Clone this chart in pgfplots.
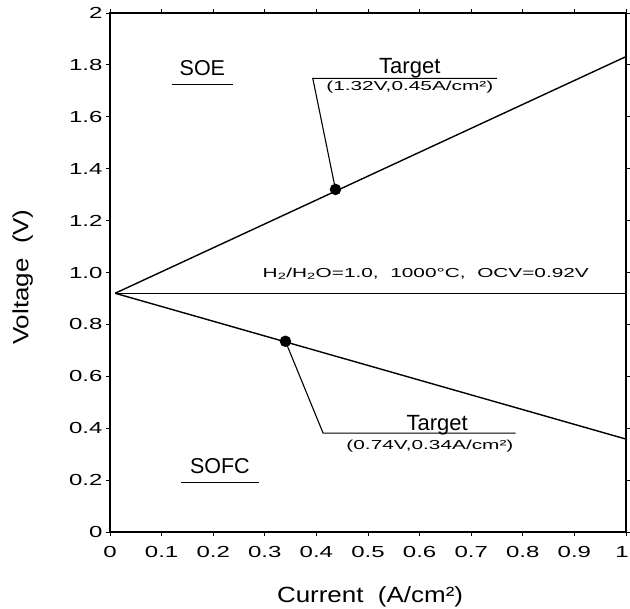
\documentclass[border=0pt]{standalone}
\usepackage{fontspec}
\setmainfont{Liberation Sans}
\newfontfamily\tickfont[FakeStretch=1.5]{Liberation Sans}
\newfontfamily\notefont[FakeStretch=1.6]{Liberation Sans}
\newfontfamily\labelfont[FakeStretch=1.18]{Liberation Sans}
\usepackage{pgfplots}
\pgfplotsset{compat=1.18}

\begin{document}
\begin{tikzpicture}
\begin{axis}[
    name=ax,
    width=516pt, height=519pt, scale only axis,
    xmin=0, xmax=1, ymin=0, ymax=2,
    xtick={0,0.1,0.2,0.3,0.4,0.5,0.6,0.7,0.8,0.9,1},
    xticklabels={0,0.1,0.2,0.3,0.4,0.5,0.6,0.7,0.8,0.9,\kern-8pt 1},
    ytick={0,0.2,0.4,0.6,0.8,1.0,1.2,1.4,1.6,1.8,2},
    yticklabels={0,0.2,0.4,0.6,0.8,1.0,1.2,1.4,1.6,1.8,2},
    tick align=outside, major tick length=4pt,
    axis line style={line width=1.4pt}, tick style={line width=0.9pt, black},
    tick label style={font=\tickfont\fontsize{16}{16}\selectfont},
    xticklabel style={yshift=-7pt},
    xlabel={Current~~(A/cm²)}, ylabel={Voltage~~(V)},
    label style={font=\labelfont\fontsize{22}{22}\selectfont},
    xlabel style={at={(axis description cs:0.504,-0.125)}, anchor=center},
    ylabel style={at={(axis description cs:-0.169,0.491)}, anchor=center},
    every axis plot/.append style={black, line width=1.4pt},
]
% cell lines
\addplot[no marks] coordinates {(0.01,0.92) (1,1.832)};
\addplot[no marks] coordinates {(0.01,0.92) (1,0.358)};
\addplot[no marks] coordinates {(0.01,0.92) (1,0.92)};
% leader lines and underlines
\addplot[no marks, line width=1.1pt] coordinates {(0.437,1.32) (0.393,1.748) (0.75,1.748)};
\addplot[no marks, line width=1.1pt] coordinates {(0.34,0.735) (0.413,0.381) (0.786,0.381)};
\addplot[no marks, line width=1.1pt] coordinates {(0.120,1.726) (0.239,1.726)};
\addplot[no marks, line width=1.1pt] coordinates {(0.138,0.1915) (0.289,0.1915)};
% target points
\addplot[only marks, mark=*, mark size=5pt] coordinates {(0.437,1.32) (0.34,0.735)};

\node[anchor=base, font=\fontsize{21.5}{21.5}\selectfont] at (axis cs:0.179,1.761) {SOE};
\node[anchor=base, font=\fontsize{21.5}{21.5}\selectfont] at (axis cs:0.213,0.2235) {SOFC};
\node[anchor=base, font=\fontsize{22}{22}\selectfont] at (axis cs:0.581,1.767) {Target};
\node[anchor=base, font=\fontsize{22}{22}\selectfont] at (axis cs:0.634,0.393) {Target};
\node[font=\notefont\fontsize{13}{13}\selectfont] at (axis cs:0.581,1.716) {(1.32V,0.45A/cm²)};
\node[font=\notefont\fontsize{13}{13}\selectfont] at (axis cs:0.620,0.329) {(0.74V,0.34A/cm²)};
\node[anchor=base, font=\notefont\fontsize{13}{13}\selectfont] at (axis cs:0.612,0.98)
  {H\textsubscript{2}/H\textsubscript{2}O=1.0,~~1000°C,~~OCV=0.92V};
\end{axis}
\pgfresetboundingbox
\path ([xshift=-110pt,yshift=-77pt]ax.south west) rectangle ([xshift=4pt,yshift=13pt]ax.north east);
\end{tikzpicture}
\end{document}
